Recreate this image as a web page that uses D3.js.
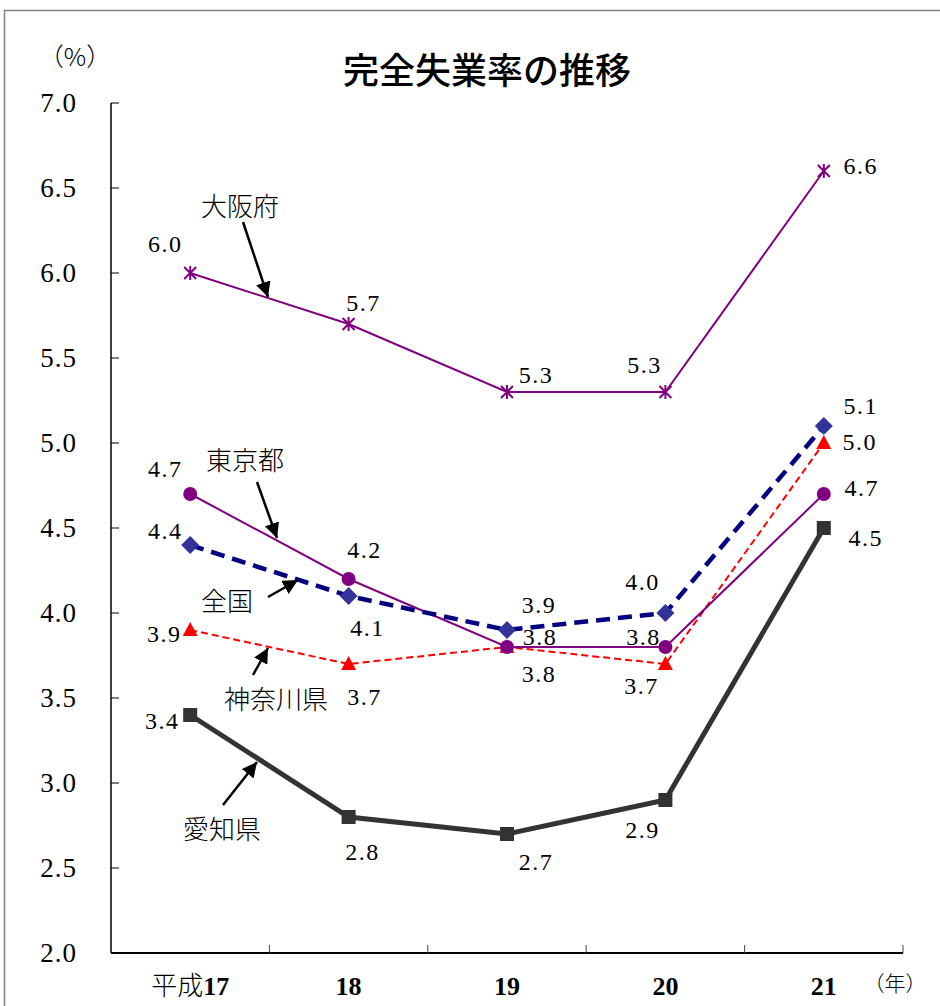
<!DOCTYPE html>
<html>
<head>
<meta charset="utf-8">
<script src="https://cdn.jsdelivr.net/npm/d3@7"></script>
<style>
  body { margin: 0; background: #fff; }
  svg { display: block; }
</style>
</head>
<body>
<svg id="chart"></svg>
<script>
// chart size
w = 940;
h = 1006;

var years = ["平成17", "18", "19", "20", "21"];
var yTicks = [2.0, 2.5, 3.0, 3.5, 4.0, 4.5, 5.0, 5.5, 6.0, 6.5, 7.0];

var osaka    = [6.0, 5.7, 5.3, 5.3, 6.6];
var tokyo    = [4.7, 4.2, 3.8, 3.8, 4.7];
var zenkoku  = [4.4, 4.1, 3.9, 4.0, 5.1];
var kanagawa = [3.9, 3.7, 3.8, 3.7, 5.0];
var aichi    = [3.4, 2.8, 2.7, 2.9, 4.5];

// where each value label sits relative to its point (px)
var labelOffsets = {
  osaka:    [[-25, -29], [15, -21], [29, -17], [-21, -27], [37, -5]],
  tokyo:    [[-25, -25], [16, -29], [33, -10], [-22, -10], [38, -6]],
  zenkoku:  [[-25, -14], [19, 32], [32, -25], [-23, -31], [37, -20]],
  kanagawa: [[-26, 4], [16, 33], [32, 27], [-24, 22], [36, -1]],
  aichi:    [[-28, 6], [14, 35], [29, 28], [-23, 30], [42, 10]]
};

var series = [
  { key: "aichi", values: aichi, color: "#333333", width: 5, dash: null, marker: "square", mcolor: "#333333" },
  { key: "kanagawa", values: kanagawa, color: "#ff0000", width: 2, dash: "7,4", marker: "triangle", mcolor: "#ff0000" },
  { key: "tokyo", values: tokyo, color: "#800080", width: 2, dash: null, marker: "circle", mcolor: "#800080" },
  { key: "zenkoku", values: zenkoku, color: "#000080", width: 4.5, dash: "14,8", marker: "diamond", mcolor: "#333399" },
  { key: "osaka", values: osaka, color: "#800080", width: 2, dash: null, marker: "star", mcolor: "#800080" }
];

// annotation labels: text, text position, arrow tail, arrow head
var notes = [
  { text: "大阪府", x: 240, y: 207, from: [243, 222], to: [268, 297] },
  { text: "東京都", x: 245, y: 461, from: [257, 482], to: [277, 538] },
  { text: "全国", x: 227, y: 602, from: [268, 597], to: [298, 580] },
  { text: "神奈川県", x: 276, y: 700, from: [253, 675], to: [268, 648] },
  { text: "愛知県", x: 222, y: 830, from: [223, 805], to: [257, 762] }
];

var numFont = "'Liberation Serif', 'DejaVu Serif', serif";
var jpFont = "'Noto Sans CJK JP', sans-serif";

var svg = d3.select('#chart').attr('width', w).attr('height', h);

// outer frame
svg.append('path')
    .attr('d', 'M4.5 1006 L4.5 10.5 L940 10.5')
    .attr('fill', 'none')
    .attr('stroke', '#808080')
    .attr('stroke-width', 1.5);

var x = d3.scaleBand().domain(years).range([111, 903]);
var y = d3.scaleLinear().domain([2, 7]).range([953, 103]);
function px(i) { return x(years[i]) + x.bandwidth() / 2; }

// y axis
svg.append('line')
    .attr('x1', 111).attr('x2', 111)
    .attr('y1', 103).attr('y2', 953)
    .attr('stroke', 'black').attr('stroke-width', 1.5);
svg.selectAll('.ytick').data(yTicks).enter()
    .append('line')
    .attr('x1', 111).attr('x2', 119)
    .attr('y1', function(d) { return y(d); })
    .attr('y2', function(d) { return y(d); })
    .attr('stroke', 'black').attr('stroke-width', 1);
svg.selectAll('.ylab').data(yTicks).enter()
    .append('text')
    .attr('x', 77)
    .attr('y', function(d) { return y(d); })
    .attr('dy', '0.35em')
    .attr('text-anchor', 'end')
    .style('font-family', numFont)
    .style('font-size', '27px')
    .style('letter-spacing', '1px')
    .text(function(d) { return d.toFixed(1); });

// x axis
svg.append('line')
    .attr('x1', 111).attr('x2', 903)
    .attr('y1', 953).attr('y2', 953)
    .attr('stroke', 'black').attr('stroke-width', 2);
for (var i = 1; i <= years.length; i++) {
  var tx = 111 + i * x.bandwidth();
  svg.append('line')
      .attr('x1', tx).attr('x2', tx)
      .attr('y1', 945).attr('y2', 953)
      .attr('stroke', '#444').attr('stroke-width', 1);
}
years.forEach(function(d, i) {
  var t = svg.append('text')
      .attr('x', px(i))
      .attr('y', 995)
      .attr('text-anchor', 'middle')
      .style('font-size', '26px');
  if (i == 0) {
    t.append('tspan').style('font-family', jpFont).style('font-weight', 300).text('平成');
    t.append('tspan').style('font-family', numFont).style('font-weight', 'bold').text('17');
  } else {
    t.style('font-family', numFont).style('font-weight', 'bold').text(d);
  }
});
svg.append('text')
    .attr('x', 895).attr('y', 991)
    .attr('text-anchor', 'middle')
    .style('font-family', jpFont)
    .style('font-weight', 300)
    .style('font-size', '21px')
    .text('（年）');

// unit and title
svg.append('text')
    .attr('x', 75).attr('y', 66)
    .attr('text-anchor', 'middle')
    .style('font-family', jpFont)
    .style('font-weight', 300)
    .style('font-size', '25px')
    .text('（%）');
svg.append('text')
    .attr('x', 487).attr('y', 84)
    .attr('text-anchor', 'middle')
    .style('font-family', jpFont)
    .style('font-weight', 500)
    .style('font-size', '36px')
    .text('完全失業率の推移');

// lines
var line = d3.line()
    .x(function(d, i) { return px(i); })
    .y(function(d) { return y(d); });

series.forEach(function(s) {
  svg.append('path')
      .attr('d', line(s.values))
      .attr('fill', 'none')
      .attr('stroke', s.color)
      .attr('stroke-width', s.width)
      .attr('stroke-dasharray', s.dash);
});

// markers
series.forEach(function(s) {
  var g = svg.append('g');
  s.values.forEach(function(v, i) {
    var cx = px(i), cy = y(v);
    if (s.marker == 'square') {
      g.append('rect').attr('x', cx - 7).attr('y', cy - 7)
          .attr('width', 14).attr('height', 14).attr('fill', s.mcolor);
    } else if (s.marker == 'circle') {
      g.append('circle').attr('cx', cx).attr('cy', cy).attr('r', 7).attr('fill', s.mcolor);
    } else if (s.marker == 'triangle') {
      g.append('path')
          .attr('d', 'M' + cx + ' ' + (cy - 8) + ' L' + (cx + 7.5) + ' ' + (cy + 6) + ' L' + (cx - 7.5) + ' ' + (cy + 6) + ' Z')
          .attr('fill', s.mcolor);
    } else if (s.marker == 'diamond') {
      g.append('path')
          .attr('d', 'M' + cx + ' ' + (cy - 9) + ' L' + (cx + 9) + ' ' + cy + ' L' + cx + ' ' + (cy + 9) + ' L' + (cx - 9) + ' ' + cy + ' Z')
          .attr('fill', s.mcolor);
    } else if (s.marker == 'star') {
      var r = 6;
      g.append('path')
          .attr('d', 'M' + (cx - r) + ' ' + (cy - r) + ' L' + (cx + r) + ' ' + (cy + r) +
                     ' M' + (cx - r) + ' ' + (cy + r) + ' L' + (cx + r) + ' ' + (cy - r) +
                     ' M' + cx + ' ' + (cy - r - 1) + ' L' + cx + ' ' + (cy + r + 1))
          .attr('stroke', s.mcolor).attr('stroke-width', 2);
    }
  });
});

// value labels
series.forEach(function(s) {
  s.values.forEach(function(v, i) {
    var off = labelOffsets[s.key][i];
    svg.append('text')
        .attr('x', px(i) + off[0])
        .attr('y', y(v) + off[1])
        .attr('dy', '0.35em')
        .attr('text-anchor', 'middle')
        .style('font-family', numFont)
        .style('font-size', '24px')
        .style('letter-spacing', '1.5px')
        .text(v.toFixed(1));
  });
});

// annotations with arrows
svg.append('defs').append('marker')
    .attr('id', 'arrow')
    .attr('viewBox', '0 0 10 10')
    .attr('refX', 10).attr('refY', 5)
    .attr('markerWidth', 6).attr('markerHeight', 6)
    .attr('markerUnits', 'strokeWidth')
    .attr('orient', 'auto')
    .append('path').attr('d', 'M0 0 L10 5 L0 10 Z').attr('fill', 'black');

notes.forEach(function(n) {
  svg.append('text')
      .attr('x', n.x).attr('y', n.y)
      .attr('dy', '0.36em')
      .attr('text-anchor', 'middle')
      .style('font-family', jpFont)
      .style('font-weight', 300)
      .style('font-size', '26px')
      .text(n.text);
  svg.append('line')
      .attr('x1', n.from[0]).attr('y1', n.from[1])
      .attr('x2', n.to[0]).attr('y2', n.to[1])
      .attr('stroke', 'black')
      .attr('stroke-width', 2.5)
      .attr('marker-end', 'url(#arrow)');
});
</script>
</body>
</html>
